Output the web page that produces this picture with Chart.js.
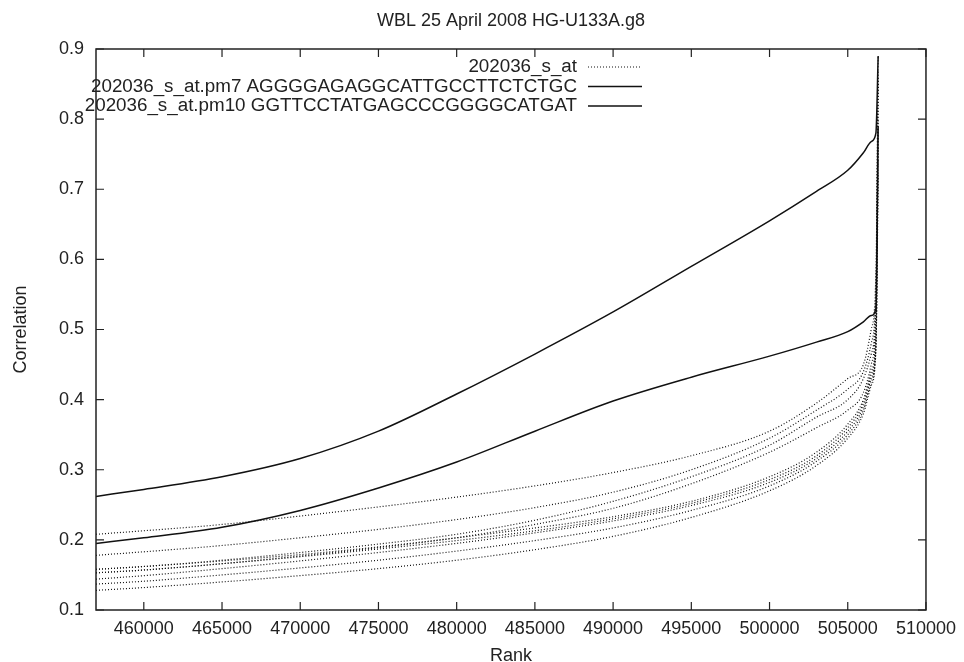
<!DOCTYPE html>
<html>
<head>
<meta charset="utf-8">
<title>WBL 25 April 2008 HG-U133A.g8</title>
<script src="https://cdn.jsdelivr.net/npm/chart.js@4.4.1/dist/chart.umd.min.js"></script>
<style>
  body { margin: 0; background: #fff; }
  #wrap { width: 964px; height: 662px; }
</style>
</head>
<body>
<div id="wrap"><canvas id="chart1" width="964" height="662"></canvas></div>
<script>
// rank positions the curves were read at
var ranks = [456944, 460000, 465000, 470000, 475000, 480000, 485000, 490000, 495000, 500000, 503000, 505000, 506000, 506500, 506800, 506944];

// 202036_s_at probes (dotted)
var probe1 = [0.208, 0.213, 0.222, 0.234, 0.247, 0.261, 0.277, 0.296, 0.320, 0.355, 0.395, 0.430, 0.450, 0.500, 0.580, 0.890];
var probe2 = [0.178, 0.183, 0.192, 0.203, 0.215, 0.229, 0.246, 0.268, 0.300, 0.345, 0.385, 0.415, 0.440, 0.480, 0.560, 0.870];
var probe3 = [0.158, 0.162, 0.171, 0.182, 0.194, 0.208, 0.228, 0.255, 0.290, 0.335, 0.375, 0.400, 0.430, 0.465, 0.540, 0.860];
var probe4 = [0.153, 0.157, 0.166, 0.177, 0.189, 0.203, 0.222, 0.245, 0.280, 0.325, 0.360, 0.385, 0.410, 0.450, 0.530, 0.850];
var probe5 = [0.158, 0.162, 0.170, 0.179, 0.190, 0.203, 0.217, 0.233, 0.255, 0.290, 0.325, 0.365, 0.400, 0.440, 0.500, 0.800];
var probe6 = [0.153, 0.157, 0.166, 0.176, 0.187, 0.199, 0.213, 0.230, 0.252, 0.286, 0.320, 0.360, 0.395, 0.435, 0.490, 0.780];
var probe7 = [0.144, 0.149, 0.159, 0.170, 0.182, 0.195, 0.210, 0.227, 0.249, 0.282, 0.316, 0.355, 0.390, 0.430, 0.480, 0.760];
var probe8 = [0.137, 0.141, 0.150, 0.160, 0.171, 0.184, 0.199, 0.217, 0.242, 0.277, 0.312, 0.350, 0.385, 0.425, 0.475, 0.740];
var probe9 = [0.128, 0.132, 0.140, 0.149, 0.159, 0.171, 0.186, 0.205, 0.232, 0.270, 0.306, 0.345, 0.380, 0.420, 0.470, 0.720];

// the two highlighted probes (solid)
var pm7 = [0.262, 0.272, 0.290, 0.316, 0.355, 0.408, 0.465, 0.525, 0.590, 0.655, 0.697, 0.727, 0.752, 0.768, 0.780, 0.890];
var pm10 = [0.195, 0.203, 0.218, 0.242, 0.274, 0.311, 0.355, 0.398, 0.432, 0.462, 0.482, 0.497, 0.511, 0.520, 0.530, 0.790];

var probes = [probe1, probe2, probe3, probe4, probe5, probe6, probe7, probe8, probe9];
var legendLabels = ['202036_s_at', '202036_s_at.pm7 AGGGGAGAGGCATTGCCTTCTCTGC', '202036_s_at.pm10 GGTTCCTATGAGCCCGGGGCATGAT'];
var xTicks = [460000, 465000, 470000, 475000, 480000, 485000, 490000, 495000, 500000, 505000, 510000];
var yTicks = [0.1, 0.2, 0.3, 0.4, 0.5, 0.6, 0.7, 0.8, 0.9];

function pts(ys) {
  return ranks.map(function (r, i) { return { x: r, y: ys[i] }; });
}

var datasets = probes.map(function (p, i) {
  return {
    label: i === 0 ? legendLabels[0] : '',
    data: pts(p),
    borderColor: '#111',
    borderWidth: 1.2,
    borderDash: [1, 2]
  };
});
datasets.push({ label: legendLabels[1], data: pts(pm7), borderColor: '#111', borderWidth: 1.5, borderDash: [] });
datasets.push({ label: legendLabels[2], data: pts(pm10), borderColor: '#111', borderWidth: 1.5, borderDash: [] });

// gnuplot style frame: box, inward ticks on all sides, key with sample on the right
var frame = {
  id: 'frame',
  afterDatasetsDraw: function (chart) {
    var ctx = chart.ctx, a = chart.chartArea, x = chart.scales.x, y = chart.scales.y;
    ctx.save();
    ctx.strokeStyle = '#222';
    ctx.lineWidth = 1.5;
    ctx.strokeRect(a.left, a.top, a.right - a.left, a.bottom - a.top);
    ctx.lineWidth = 1.2;
    ctx.beginPath();
    x.ticks.forEach(function (t) {
      var px = x.getPixelForValue(t.value);
      ctx.moveTo(px, a.bottom); ctx.lineTo(px, a.bottom - 8);
      ctx.moveTo(px, a.top); ctx.lineTo(px, a.top + 8);
    });
    y.ticks.forEach(function (t) {
      var py = y.getPixelForValue(t.value);
      ctx.moveTo(a.left, py); ctx.lineTo(a.left + 8, py);
      ctx.moveTo(a.right, py); ctx.lineTo(a.right - 8, py);
    });
    ctx.stroke();

    // key
    var keyDs = [0, datasets.length - 2, datasets.length - 1];
    ctx.font = '18.8px "Liberation Sans", Arial, sans-serif';
    ctx.fillStyle = '#222';
    ctx.textAlign = 'right';
    ctx.textBaseline = 'middle';
    keyDs.forEach(function (di, i) {
      var ds = datasets[di];
      var ty = a.top + 18 + i * 19.5;
      ctx.fillText(ds.label, a.left + 481, ty);
      ctx.save();
      ctx.strokeStyle = ds.borderColor;
      ctx.lineWidth = ds.borderWidth;
      ctx.setLineDash(ds.borderDash);
      ctx.beginPath();
      ctx.moveTo(a.left + 492, ty);
      ctx.lineTo(a.left + 546, ty);
      ctx.stroke();
      ctx.restore();
    });
    ctx.restore();
  }
};

Chart.defaults.font.family = '"Liberation Sans", Arial, sans-serif';
Chart.defaults.font.size = 18;
Chart.defaults.color = '#222';

var graph = document.getElementById('chart1');

var myChart = new Chart(graph, {
  type: 'line',
  data: { datasets: datasets },
  options: {
    responsive: false,
    animation: false,
    layout: { padding: { left: 0, right: 34.5, top: 0, bottom: 0 } },
    elements: {
      point: { radius: 0 },
      line: { cubicInterpolationMode: 'monotone', fill: false }
    },
    plugins: {
      legend: { display: false },
      tooltip: { enabled: false },
      title: {
        display: true,
        fullSize: false,
        text: 'WBL 25 April 2008 HG-U133A.g8',
        color: '#222',
        font: { size: 18, weight: 'normal', lineHeight: 1.2 },
        padding: { top: 10.5, bottom: 16.9 }
      }
    },
    scales: {
      x: {
        type: 'linear',
        min: ranks[0],
        max: 510000,
        afterFit: function (s) { s.height = 52; },
        afterBuildTicks: function (s) { s.ticks = xTicks.map(function (v) { return { value: v }; }); },
        grid: { display: false, drawTicks: false },
        border: { display: false },
        ticks: {
          padding: 8,
          maxRotation: 0,
          autoSkip: false,
          callback: function (v) { return String(v); }
        },
        title: { display: true, text: 'Rank', font: { size: 18, lineHeight: 1 }, padding: { top: 0, bottom: -3 } }
      },
      y: {
        type: 'linear',
        min: 0.1,
        max: 0.9,
        afterFit: function (s) { s.width = 96; },
        afterBuildTicks: function (s) { s.ticks = yTicks.map(function (v) { return { value: v }; }); },
        grid: { display: false, drawTicks: false },
        border: { display: false },
        ticks: {
          padding: 12,
          autoSkip: false,
          callback: function (v) { return v.toFixed(1); }
        },
        title: { display: true, text: 'Correlation', font: { size: 18, lineHeight: 1.2 }, padding: { top: 10, bottom: 0 } }
      }
    }
  },
  plugins: [frame]
});
</script>
</body>
</html>
